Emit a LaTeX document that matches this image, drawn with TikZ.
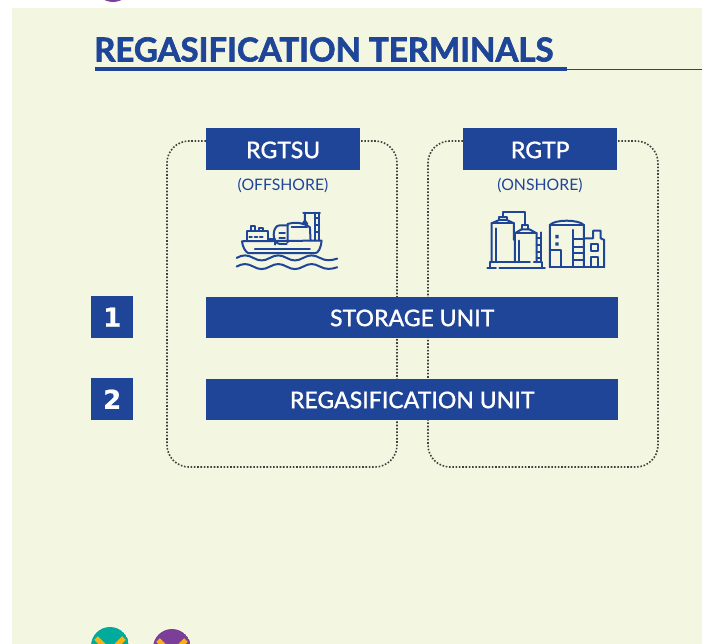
\documentclass[tikz,border=0pt]{standalone}
\usepackage{fontspec}
\setmainfont{Lato}
\newfontfamily\headfont{Lato Bold}[FakeBold=2]
\newfontfamily\barfont{Lato Medium}[FakeBold=0.5]
\newfontfamily\numfont{DejaVu Sans Bold}[FakeBold=0.6]
\definecolor{regablue}{HTML}{1F4599}
\definecolor{regabg}{HTML}{F3F6E0}
\definecolor{regateal}{HTML}{00AB9C}
\definecolor{regapurple}{HTML}{7B3F98}
\definecolor{regaorange}{HTML}{FBB116}

\begin{document}
\begin{tikzpicture}[x=1pt,y=-1pt,font=\fontsize{20}{24}\selectfont]
    \tikzset{
        bluebar/.style={
            fill=regablue,
            text=white,
            inner sep=0pt,
            anchor=north west,
            font=\fontsize{23}{24}\barfont
        },
        numbox/.style={
            bluebar,
            minimum width=42pt,
            minimum height=42pt,
            font=\fontsize{26}{26}\numfont
        },
        sitebox/.style={
            bluebar,
            minimum width=154pt,
            minimum height=42pt,
            text depth=0pt,
            text height=18pt
        },
        unitbar/.style={
            bluebar,
            minimum width=412pt,
            minimum height=41pt,
            text depth=0pt,
            text height=17pt
        },
        sitelabel/.style={
            text=regablue,
            font=\fontsize{15.8}{16}\selectfont
        },
        dotbox/.style={
            draw=black!75,
            line width=1.6pt,
            dash pattern=on 1.6pt off 1.7pt,
            rounded corners=22pt
        },
        iconline/.style={
            draw=regablue,
            line width=2pt,
            line cap=round,
            line join=round
        }
    }

    \useasboundingbox (0,0) rectangle (702,644);
    \clip (0,0) rectangle (702,644);
    \fill[regabg] (12,8) rectangle (702,644);

    \fill[regapurple] (113,-17) circle (19);
    \begin{scope}
        \clip (110,646) circle (19);
        \fill[regateal] (110,646) circle (19);
        \draw[regaorange,line width=5pt] (96,638) -- (110,652) -- (124,638);
    \end{scope}
    \begin{scope}
        \clip (172,648) circle (19);
        \fill[regapurple] (172,648) circle (19);
        \draw[regaorange,line width=5pt] (158,640) -- (172,654) -- (186,640);
    \end{scope}

    \node (title) at (94,49.5) [anchor=west,inner sep=0pt,text=regablue,
        font=\fontsize{33}{36}\headfont] {REGASIFICATION TERMINALS};
    \coordinate (rulea) at (95,69);
    \coordinate (ruleb) at (567,69);
    \coordinate (ruled) at (702,69.5);
    \draw[regablue,line width=1.1pt] (ruleb |- ruled) -- (ruled);
    \draw[regablue,line width=3.8pt] (rulea) -- (ruleb);

    \draw[dotbox] (206,141) -| (167,467) -| (397,141) -- (360,141);
    \draw[dotbox] (463,141) -| (428,467) -| (658,141) -- (617,141);

    \node[sitebox] (rgtsu) at (206,128) {RGTSU};
    \node[sitebox] (rgtp) at (463,128) {RGTP};
    \node[sitelabel] (offshore) at (283,185.5) {(OFFSHORE)};
    \node[sitelabel] (onshore) at (540,185.5) {(ONSHORE)};

    \node[unitbar] (storage) at (206,297) {STORAGE UNIT};
    \node[unitbar] (regas) at (206,379) {REGASIFICATION UNIT};
    \node[numbox] (one) at (91,296) {1};
    \node[numbox] (two) at (91,378) {2};

    \begin{scope}[shift={(220,170)},x=0.333pt,y=-0.333pt]
        \draw[iconline] (50,264) .. controls (68,254) and (82,254) .. (100,264)
            .. controls (118,274) and (132,274) .. (150,264)
            .. controls (168,254) and (182,254) .. (200,264)
            .. controls (218,274) and (232,274) .. (250,264)
            .. controls (268,254) and (282,254) .. (300,264)
            .. controls (318,274) and (335,272) .. (352,266);
        \draw[iconline] (50,290) .. controls (68,280) and (82,280) .. (100,290)
            .. controls (118,300) and (132,300) .. (150,290)
            .. controls (168,280) and (182,280) .. (200,290)
            .. controls (218,300) and (232,300) .. (250,290)
            .. controls (268,280) and (282,280) .. (300,290)
            .. controls (318,300) and (335,298) .. (352,292);
        \draw[iconline] (66,214) -- (305,212) .. controls (303,235) and (295,250) .. (285,250)
            -- (85,250) .. controls (75,245) and (68,230) .. (66,214);
        \draw[iconline] (105,237) -- (270,237);
        \draw[iconline] (80,212) -- (80,184) -- (145,184) -- (145,212);
        \draw[iconline] (88,200) -- (96,200) (104,200) -- (112,200) (120,200) -- (128,200);
        \draw[iconline] (94,183) -- (94,168) -- (106,168) -- (106,183);
        \draw[iconline] (118,183) -- (118,173) -- (128,173) -- (128,183);
        \draw[iconline] (145,208) -- (165,208) -- (165,224);
        \draw[iconline] (200,222) -- (180,222) .. controls (155,222) and (155,166) .. (180,166) -- (203,166);
        \draw[iconline] (178,190) -- (195,190) (178,205) -- (195,205);
        \draw[iconline] (203,218) -- (203,162) .. controls (225,155) and (250,158) .. (270,172) -- (272,212);
        \draw[iconline] (215,172) -- (262,172);
        \draw[iconline] (286,212) -- (286,128) (298,212) -- (298,128);
        \draw[iconline] (250,128) -- (300,128) (286,145) -- (298,145) (286,165) -- (298,165) (286,185) -- (298,185);
        \draw[iconline] (255,128) -- (255,152) -- (262,162) -- (248,162) -- (255,152);
    \end{scope}

    \begin{scope}[shift={(470,170)},x=0.333pt,y=-0.333pt]
        \draw[iconline] (52,295) -- (78,295) (88,295) -- (225,295);
        \draw[iconline] (60,295) -- (60,277) -- (180,277) (192,277) -- (215,277) -- (215,295);
        \draw[iconline] (65,277) -- (65,160) -- (88,150) -- (110,150) -- (132,160) -- (132,210);
        \draw[iconline] (65,160) -- (132,160);
        \draw[iconline] (88,150) -- (88,140) -- (110,140) -- (110,150);
        \draw[iconline] (78,175) -- (78,277);
        \draw[iconline] (135,277) -- (135,190) -- (155,178) -- (178,178) -- (200,190) -- (200,277);
        \draw[iconline] (135,190) -- (200,190);
        \draw[iconline] (157,178) -- (157,166) -- (175,166) -- (175,178);
        \draw[iconline] (148,212) -- (148,277);
        \draw[iconline] (98,140) -- (98,127) -- (165,127) -- (165,166);
        \draw[iconline] (212,187) -- (212,277);
        \draw[iconline] (200,205) -- (212,205) (200,225) -- (212,225) (200,245) -- (212,245) (200,265) -- (212,265);
        \draw[iconline] (240,292) -- (240,165) .. controls (255,148) and (325,148) .. (342,165) -- (342,292);
        \draw[iconline] (240,292) -- (403,292);
        \draw[iconline] (240,165) -- (342,165);
        \draw[iconline] (240,240) -- (272,240) -- (272,292);
        \fill[regablue] (256,195) rectangle (266,205) (256,217) rectangle (266,227);
        \draw[iconline] (310,180) -- (310,292);
        \draw[iconline] (310,207) -- (342,207) (310,230) -- (342,230) (310,250) -- (342,250) (310,270) -- (342,270);
        \draw[iconline] (345,205) -- (370,205) -- (370,182) -- (392,182) -- (392,205) -- (403,210) -- (403,292);
        \draw[iconline] (362,222) rectangle (383,242);
        \draw[iconline] (362,292) -- (362,262) -- (383,262) -- (383,292);
    \end{scope}
\end{tikzpicture}
\end{document}
